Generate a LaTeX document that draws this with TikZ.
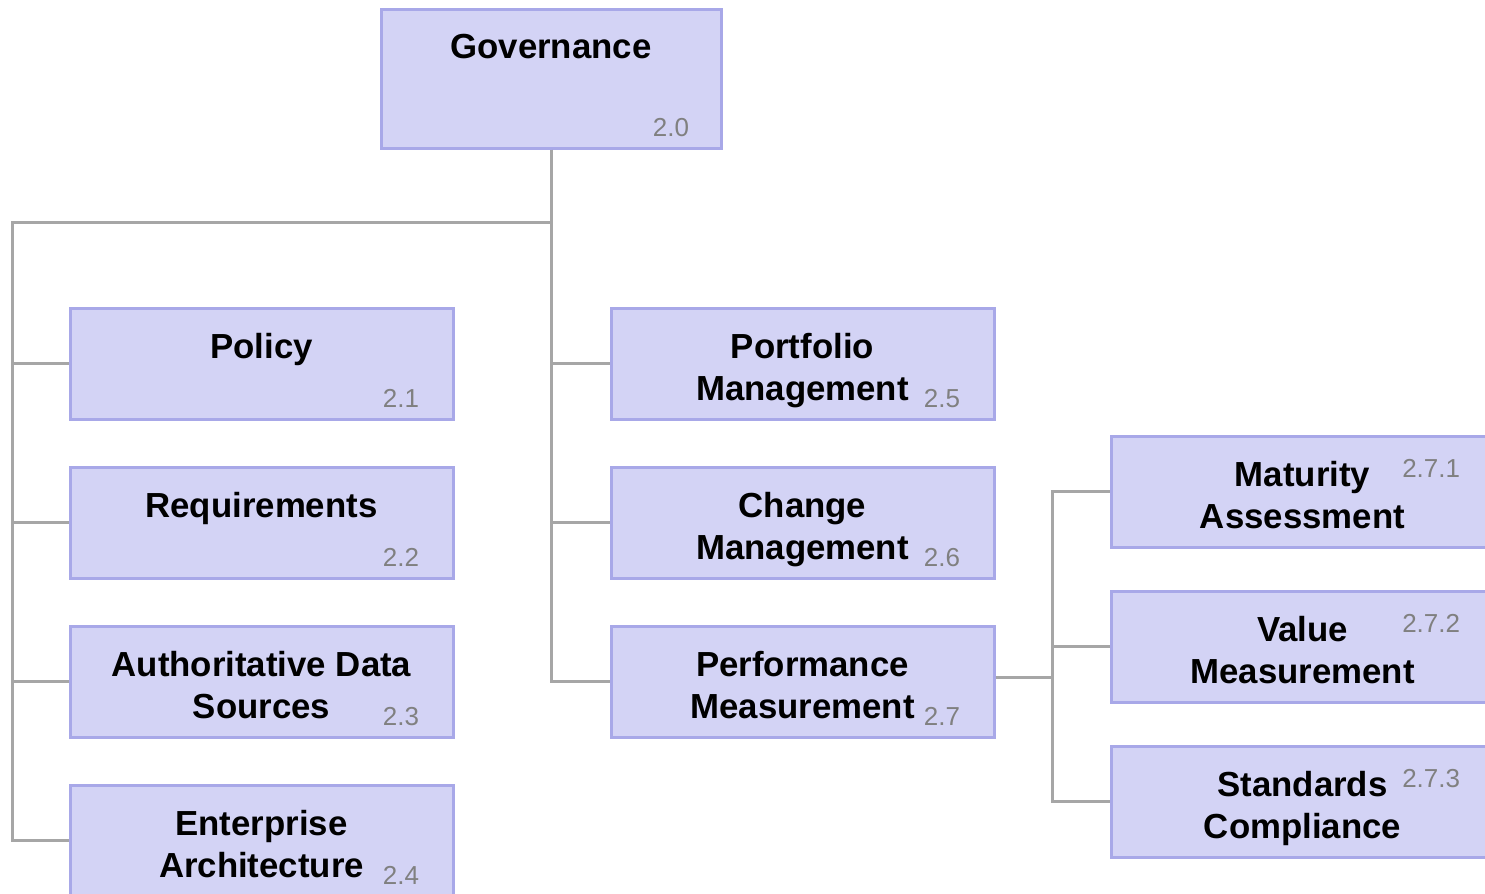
\documentclass[tikz,border=0pt]{standalone}
\usepackage{fontspec}
\setmainfont{Liberation Sans}
\usepackage{tikz}
\definecolor{boxfill}{RGB}{211,211,245}
\definecolor{boxline}{RGB}{168,168,232}
\definecolor{linkgray}{RGB}{166,166,166}
\definecolor{numgray}{RGB}{128,128,128}

\begin{document}
\begin{tikzpicture}[x=0.5pt,y=-0.5pt,
  box/.style={draw=boxline,fill=boxfill,line width=1.5pt,inner sep=0pt,minimum width=191.5pt,minimum height=55.5pt},
  title/.style={font=\bfseries\fontsize{17.4}{21}\selectfont,align=center,anchor=north,inner sep=0pt},
  num/.style={font=\fontsize{13}{15}\selectfont,text=numgray,inner sep=0pt},
  link/.style={draw=linkgray,line width=1.5pt}]
 \useasboundingbox (0,0) rectangle (1485,894);

 % boxes
 \node [box,minimum width=170pt,minimum height=69.5pt] (gov) at (551,78.5) {};
 \node [box] (pol)  at (261.5,363.5) {};
 \node [box] (req)  at (261.5,522.5) {};
 \node [box] (ads)  at (261.5,681.5) {};
 \node [box] (ea)   at (261.5,840.5) {};
 \node [box] (port) at (802.5,363.5) {};
 \node [box] (chg)  at (802.5,522.5) {};
 \node [box] (perf) at (802.5,681.5) {};
 \node [box] (mat)  at (1302.5,491.5) {};
 \node [box] (val)  at (1302.5,646.5) {};
 \node [box] (std)  at (1302.5,801.5) {};

 % titles
 \node [title] (govt)  at ([yshift=-13pt]gov.north)  {Governance};
 \node [title] (polt)  at ([yshift=-13pt]pol.north)  {Policy};
 \node [title] (reqt)  at ([yshift=-13pt]req.north)  {Requirements};
 \node [title] (adst)  at ([yshift=-13pt]ads.north)  {Authoritative Data\\Sources};
 \node [title] (eat)   at ([yshift=-13pt]ea.north)   {Enterprise\\Architecture};
 \node [title] (portt) at ([yshift=-13pt]port.north) {Portfolio\\Management};
 \node [title] (chgt)  at ([yshift=-13pt]chg.north)  {Change\\Management};
 \node [title] (perft) at ([yshift=-13pt]perf.north) {Performance\\Measurement};
 \node [title] (matt)  at ([yshift=-13pt]mat.north)  {Maturity\\Assessment};
 \node [title] (valt)  at ([yshift=-13pt]val.north)  {Value\\Measurement};
 \node [title] (stdt)  at ([yshift=-13pt]std.north)  {Standards\\Compliance};

 % numbers
 \node [num,anchor=base east] (govn) at ([xshift=-16.5pt,yshift=6.5pt]gov.south east) {2.0};
 \foreach \b/\t in {pol/2.1,req/2.2,ads/2.3,ea/2.4,port/2.5,chg/2.6,perf/2.7}
   \node [num,anchor=base east] (\b n) at ([xshift=-17.5pt,yshift=6.5pt]\b.south east) {\t};
 \foreach \b/\t in {mat/2.7.1,val/2.7.2,std/2.7.3}
   \node [num,anchor=base east] (\b n) at ([xshift=-17.5pt,yshift=-21.5pt]\b.north east) {\t};

 % connectors
 \coordinate (ltop) at (12,222);
 \coordinate (lbot) at (12,840.5);
 \coordinate (rbus) at (1052,0);
 \draw [link] (gov.south) |- (ltop) -- (lbot) -- (ea.west);
 \foreach \b in {pol,req,ads}
   \draw [link] (\b.west) -- (\b.west -| ltop);
 \draw [link] (gov.south) -- (gov.south |- perf.west) -- (perf.west);
 \foreach \b in {port,chg}
   \draw [link] (\b.west) -- (\b.west -| gov.south);
 \draw [link] ([yshift=2pt]perf.east) -- ([yshift=2pt]perf.east -| rbus);
 \draw [link] (mat.west) -- (mat.west -| rbus) -- (std.west -| rbus) -- (std.west);
 \draw [link] (val.west) -- (val.west -| rbus);
\end{tikzpicture}
\end{document}
